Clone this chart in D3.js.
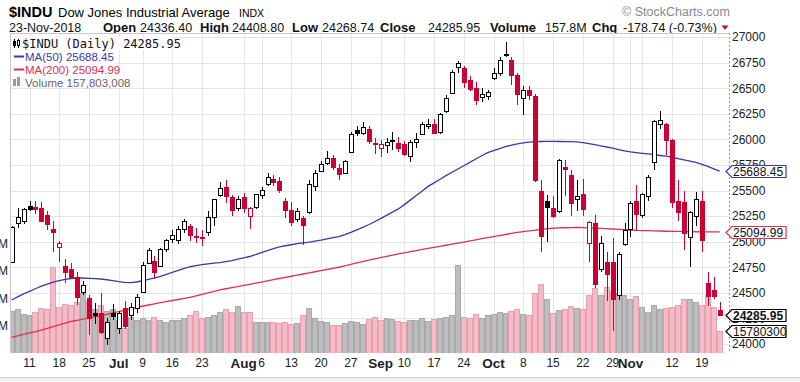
<!DOCTYPE html>
<html><head><meta charset="utf-8">
<script src="https://cdn.jsdelivr.net/npm/d3@7"></script>
<style>
body{margin:0;background:#fff;}
svg{display:block;font-family:"Liberation Sans",Arial,sans-serif;}
</style></head><body>
<svg id="c" width="800" height="382"></svg>
<script>
// ---------------- data ----------------
const dates = ["2018-06-06","2018-06-07","2018-06-08","2018-06-11","2018-06-12","2018-06-13","2018-06-14","2018-06-15","2018-06-18","2018-06-19","2018-06-20","2018-06-21","2018-06-22","2018-06-25","2018-06-26","2018-06-27","2018-06-28","2018-06-29","2018-07-02","2018-07-03","2018-07-05","2018-07-06","2018-07-09","2018-07-10","2018-07-11","2018-07-12","2018-07-13","2018-07-16","2018-07-17","2018-07-18","2018-07-19","2018-07-20","2018-07-23","2018-07-24","2018-07-25","2018-07-26","2018-07-27","2018-07-30","2018-07-31","2018-08-01","2018-08-02","2018-08-03","2018-08-06","2018-08-07","2018-08-08","2018-08-09","2018-08-10","2018-08-13","2018-08-14","2018-08-15","2018-08-16","2018-08-17","2018-08-20","2018-08-21","2018-08-22","2018-08-23","2018-08-24","2018-08-27","2018-08-28","2018-08-29","2018-08-30","2018-08-31","2018-09-04","2018-09-05","2018-09-06","2018-09-07","2018-09-10","2018-09-11","2018-09-12","2018-09-13","2018-09-14","2018-09-17","2018-09-18","2018-09-19","2018-09-20","2018-09-21","2018-09-24","2018-09-25","2018-09-26","2018-09-27","2018-09-28","2018-10-01","2018-10-02","2018-10-03","2018-10-04","2018-10-05","2018-10-08","2018-10-09","2018-10-10","2018-10-11","2018-10-12","2018-10-15","2018-10-16","2018-10-17","2018-10-18","2018-10-19","2018-10-22","2018-10-23","2018-10-24","2018-10-25","2018-10-26","2018-10-29","2018-10-30","2018-10-31","2018-11-01","2018-11-02","2018-11-05","2018-11-06","2018-11-07","2018-11-08","2018-11-09","2018-11-12","2018-11-13","2018-11-14","2018-11-15","2018-11-16","2018-11-19","2018-11-20","2018-11-21","2018-11-23"];

const open = [
24800,25180,25200,25345,25340,25330,25260,25120,24950,24760,
24730,24650,24510,24450,24300,24300,24060,24300,24160,24350,
24280,24350,24510,24790,24810,24760,24930,25030,25020,25120,
25150,25060,25050,25090,25240,25460,25530,25440,25330,25440,
25250,25340,25460,25560,25610,25590,25400,25310,25220,25230,
25290,25540,25690,25770,25815,25720,25670,25880,26090,26060,
26100,25950,25920,25940,25980,25960,25950,25840,25975,26050,
26130,26150,26070,26280,26450,26710,26700,26580,26500,26410,
26420,26600,26650,26830,26780,26630,26400,26480,26424,25500,
25400,25330,25300,25730,25650,25420,25470,24990,25180,24730,
24800,24800,24480,24980,25120,25400,25260,25450,25780,26150,
26150,25990,25400,25390,25050,25250,25400,24600,24524,24336.40];

const high = [
25150,25330,25330,25400,25400,25390,25300,25200,25010,24830,
24790,24700,24620,24480,24400,24500,24250,24390,24320,24420,
24400,24490,24800,24940,24860,24940,25030,25110,25150,25220,
25170,25130,25110,25300,25420,25580,25600,25460,25450,25480,
25340,25470,25530,25670,25650,25630,25430,25390,25330,25250,
25600,25700,25790,25888,25850,25760,25800,26070,26130,26170,
26130,26010,25990,26010,26070,26020,25980,25990,26060,26170,
26200,26200,26260,26430,26680,26770,26720,26620,26560,26500,
26480,26700,26800,26951,26800,26650,26520,26520,26440,25600,
25460,25450,25810,25800,25700,25600,25610,25200,25260,25060,
24900,25040,24900,25180,25400,25554,25480,25650,26190,26277,
26160,26000,25600,25500,25300,25485,25500,24700,24650,24408.80];

const low = [
24790,25130,25170,25300,25270,25200,25110,24900,24800,24600,
24640,24380,24480,24084,24200,24100,23990,24230,24100,24150,
24230,24300,24500,24780,24640,24750,24900,24990,24980,25080,
25010,24990,24960,25060,25150,25440,25380,25250,25300,25280,
25120,25320,25420,25540,25540,25480,25230,25150,25190,24965,
25270,25500,25680,25750,25700,25600,25660,25870,26030,26040,
25950,25860,25830,25870,25900,25880,25840,25780,25920,26040,
26100,26050,26050,26260,26440,26650,26500,26470,26340,26360,
26380,26580,26620,26800,26530,26340,26240,26380,25580,24899,
25000,25230,25280,25450,25250,25300,25250,24805,24550,24700,
24420,24123,24430,24960,25050,25100,25230,25400,25700,26100,
25850,25330,25200,24920,24755,25150,24900,24370,24440,24268.74];

const close = [
25146.39,25241.41,25316.53,25322.31,25320.73,25201.20,25175.31,25090.48,24987.47,24700.21,
24657.80,24461.70,24580.89,24252.80,24283.11,24117.59,24216.05,24271.41,24307.18,24174.82,
24356.74,24456.48,24776.59,24919.66,24700.45,24924.89,25019.41,25064.36,25119.89,25199.29,
25064.50,25058.12,25044.29,25241.94,25414.10,25527.07,25451.06,25306.83,25415.19,25333.82,
25326.16,25462.58,25502.18,25628.91,25583.75,25509.23,25313.14,25187.70,25299.92,25162.41,
25558.73,25669.32,25758.69,25822.29,25733.60,25656.98,25790.35,26049.64,26064.02,26124.57,
25986.92,25964.82,25952.48,25974.99,25995.87,25916.54,25857.07,25971.06,25998.92,26145.99,
26154.67,26062.12,26246.96,26405.76,26656.98,26743.50,26562.05,26492.21,26385.28,26439.93,
26458.31,26651.21,26773.94,26828.39,26627.48,26447.05,26486.78,26430.57,25598.74,25052.83,
25339.99,25250.55,25798.42,25706.68,25379.45,25444.34,25317.41,25191.43,24583.42,24984.55,
24688.31,24442.92,24874.64,25115.76,25380.74,25270.83,25461.70,25635.01,26180.30,26191.22,
25989.30,25387.18,25286.49,25080.50,25289.27,25413.22,25017.44,24465.64,24464.69,24285.95];
const prevClose0 = 24799.98;

// volume in millions of shares
const volume = [
307,318,286,276,297,329,318,628,339,360,
350,371,435,382,318,350,307,318,244,180,
265,244,254,244,265,244,228,238,244,254,
276,307,254,265,276,302,318,297,345,297,
297,228,228,228,223,217,228,212,217,276,
329,254,233,228,207,201,217,233,228,212,
249,265,244,254,249,233,228,238,244,254,
233,249,254,265,276,642,265,254,286,254,
276,286,297,292,307,318,286,276,439,505,
394,293,315,321,343,329,318,424,477,424,
482,456,439,424,392,413,339,297,350,318,
329,339,350,392,392,371,350,424,339,157.8];

const ma50 = [
24430,24460,24490,24515,24540,24565,24585,24605,24620,24632,
24640,24645,24645,24642,24638,24635,24628,24620,24610,24603,
24600,24606,24618,24632,24646,24660,24680,24700,24720,24740,
24755,24765,24775,24783,24790,24795,24805,24815,24830,24842,
24855,24873,24893,24912,24932,24950,24960,24970,24980,24988,
24995,25005,25015,25028,25040,25050,25068,25090,25115,25140,
25165,25195,25225,25257,25288,25320,25362,25406,25452,25496,
25540,25575,25610,25645,25678,25710,25742,25775,25808,25840,
25870,25890,25910,25928,25943,25955,25965,25972,25977,25979,
25980,25980,25979,25978,25977,25975,25968,25958,25948,25937,
25925,25913,25900,25888,25878,25870,25863,25857,25850,25842,
25835,25825,25812,25800,25788,25775,25755,25735,25712,25688.45];

const ma200 = [
24065,24080,24094,24108,24121,24135,24152,24170,24187,24204,
24220,24231,24242,24253,24264,24275,24289,24303,24317,24331,
24345,24357,24369,24381,24393,24405,24415,24425,24435,24445,
24455,24470,24485,24500,24515,24530,24540,24551,24561,24572,
24582,24594,24605,24617,24628,24640,24651,24662,24673,24684,
24695,24706,24717,24728,24739,24750,24764,24778,24792,24806,
24820,24832,24844,24856,24868,24880,24891,24902,24913,24924,
24935,24945,24955,24965,24975,24985,24996,25007,25018,25029,
25040,25050,25060,25070,25080,25090,25098,25105,25113,25120,
25128,25131,25134,25136,25138,25140,25138,25135,25133,25130,
25128,25124,25121,25117,25114,25110,25108,25107,25105,25104,
25102,25101,25100,25099,25098,25097,25096,25096,25095,25094.99];

const priceTicks = [24000,24250,24500,24750,25000,25250,25500,25750,26000,26250,26500,26750,27000];
const volTicks = [200,400,600,800];
const xTickDates = ["2018-06-11","2018-06-18","2018-06-25","2018-07-02","2018-07-09","2018-07-16","2018-07-23","2018-08-01","2018-08-06","2018-08-13","2018-08-20","2018-08-27","2018-09-04","2018-09-10","2018-09-17","2018-09-24","2018-10-01","2018-10-08","2018-10-15","2018-10-22","2018-10-29","2018-11-01","2018-11-12","2018-11-19"];
const xTickTexts = ["11","18","25","Jul","9","16","23","Aug","6","13","20","27","Sep","10","17","24","Oct","8","15","22","29","Nov","12","19"];
const gridDates = xTickDates.concat(["2018-11-05"]);

// ---------------- layout ----------------
const plotL = 10, plotR = 729, plotT = 33, plotB = 353;
const RED = "#cc0033", BLUE = "#3a3aa6", MARED = "#e0304e";
const svg = d3.select("#c");

const x = d3.scaleBand().domain(dates).range([8.675, 8.675 + dates.length * 5.95]).padding(0);
const cx = d => x(d) + x.bandwidth() / 2;
const y = d3.scaleLinear().domain([24000, 27000]).range([344, 37]);
const yv = d3.scaleLinear().domain([0, 800]).range([353, 353 - 0.137 * 800]);

// header
const hdr = svg.append("g");
hdr.append("text").attr("x", 9).attr("y", 17).attr("font-size", 14.5).attr("font-weight", "bold").text("$INDU");
hdr.append("text").attr("x", 58).attr("y", 17).attr("font-size", 13).text("Dow Jones Industrial Average");
hdr.append("text").attr("x", 239).attr("y", 17).attr("font-size", 10.5).text("INDX");
hdr.append("text").attr("x", 622).attr("y", 16).attr("font-size", 12.5).attr("fill", "#888").text("\u00A9 StockCharts.com");
const line2 = [
  ["23-Nov-2018", 9, false], ["Open", 103, true], ["24336.40", 140, false],
  ["High", 200, true], ["24408.80", 232, false], ["Low", 292, true], ["24268.74", 322, false],
  ["Close", 380, true], ["24285.95", 428, false], ["Volume", 490, true], ["157.8M", 545, false],
  ["Chg", 592, true], ["-178.74 (-0.73%)", 623, false]];
line2.forEach(([t, xx, b]) => {
  hdr.append("text").attr("x", xx).attr("y", 31.5).attr("font-size", b ? 13 : 12.5)
    .attr("font-weight", b ? "bold" : "normal").attr("fill", "#111").text(t);
});
hdr.append("path").attr("d", "M721.5,25.5 L728.5,25.5 L725,30 Z").attr("fill", "#b0103a");

// plot frame background
svg.append("rect").attr("x", plotL).attr("y", plotT).attr("width", plotR - plotL).attr("height", plotB - plotT).attr("fill", "#fff");

// grid
const grid = svg.append("g").attr("stroke", "#e4e4e4").attr("stroke-width", 1).attr("shape-rendering", "crispEdges");
grid.selectAll("line.h").data(priceTicks).join("line")
  .attr("x1", plotL).attr("x2", plotR).attr("y1", d => Math.round(y(d)) + 0.5).attr("y2", d => Math.round(y(d)) + 0.5);
grid.selectAll("line.v").data(gridDates).join("line")
  .attr("x1", d => Math.round(cx(d)) + 0.5).attr("x2", d => Math.round(cx(d)) + 0.5).attr("y1", plotT).attr("y2", plotB);

// clip
svg.append("clipPath").attr("id", "clip").append("rect").attr("x", plotL).attr("y", plotT).attr("width", plotR - plotL).attr("height", plotB - plotT);
const plot = svg.append("g").attr("clip-path", "url(#clip)");

// volume bars
const isDown = i => close[i] < (i === 0 ? prevClose0 : close[i - 1]);
plot.append("g").attr("shape-rendering", "crispEdges").selectAll("rect").data(dates).join("rect")
  .attr("x", d => Math.round(x(d)) + 0.5)
  .attr("width", d => Math.round(x(d) + x.bandwidth()) - Math.round(x(d)) - 1)
  .attr("y", (d, i) => Math.round(yv(volume[i])) + 0.5)
  .attr("height", (d, i) => 353 - Math.round(yv(volume[i])) - 0.5)
  .attr("fill", (d, i) => isDown(i) ? "#f3bcc6" : "#bdbdbd")
  .attr("stroke", (d, i) => isDown(i) ? "#e7a0b0" : "#a9a9a9");

// moving averages
const lineGen = arr => d3.line().x((d, i) => cx(dates[i])).y(d => y(d))(arr);
plot.append("path").attr("d", lineGen(ma200)).attr("fill", "none").attr("stroke", MARED).attr("stroke-width", 1.3);
plot.append("path").attr("d", lineGen(ma50)).attr("fill", "none").attr("stroke", BLUE).attr("stroke-width", 1.3);

// candles
const cg = plot.append("g").attr("shape-rendering", "crispEdges");
dates.forEach((d, i) => {
  const col = isDown(i) ? RED : "#000";
  const filled = close[i] < open[i];
  const left = Math.round(cx(d) - 2);
  const mid = left + 2.5;
  cg.append("line").attr("x1", mid).attr("x2", mid)
    .attr("y1", y(high[i])).attr("y2", y(low[i])).attr("stroke", col).attr("stroke-width", 1);
  const top = Math.round(y(Math.max(open[i], close[i])));
  const bot = Math.round(y(Math.min(open[i], close[i])));
  cg.append("rect").attr("x", left + 0.5).attr("y", top + 0.5)
    .attr("width", 4).attr("height", Math.max(bot - top, 1))
    .attr("fill", filled ? col : "#fff").attr("stroke", col).attr("stroke-width", 1);
});

// frame
svg.append("g").attr("stroke", "#c8c8c8").attr("shape-rendering", "crispEdges").call(g => {
  g.append("line").attr("x1", plotL + 0.5).attr("x2", plotL + 0.5).attr("y1", plotT).attr("y2", plotB);
  g.append("line").attr("x1", plotL).attr("x2", plotR).attr("y1", plotT + 0.5).attr("y2", plotT + 0.5);
});
svg.append("line").attr("x1", plotR + 0.5).attr("x2", plotR + 0.5).attr("y1", plotT).attr("y2", plotB)
  .attr("stroke", "#999").attr("stroke-dasharray", "2,2").attr("shape-rendering", "crispEdges");

// legend
const lg = svg.append("g");
[[44, 162], [56, 98], [69, 106], [82, 122]].forEach(([yy, w]) => {
  lg.append("rect").attr("x", 11).attr("y", yy - 7).attr("width", w).attr("height", 13).attr("fill", "#fff");
});
// candle icon
lg.append("line").attr("x1", 14.5).attr("x2", 14.5).attr("y1", 39).attr("y2", 48).attr("stroke", "#000");
lg.append("rect").attr("x", 13.5).attr("y", 41.5).attr("width", 2).attr("height", 4).attr("fill", "#000").attr("stroke", "#000");
lg.append("line").attr("x1", 18.5).attr("x2", 18.5).attr("y1", 39).attr("y2", 48).attr("stroke", "#000");
lg.append("rect").attr("x", 17.5).attr("y", 40.5).attr("width", 2).attr("height", 5).attr("fill", "#fff").attr("stroke", "#000");
lg.append("text").attr("x", 22).attr("y", 48).attr("font-family", "'DejaVu Sans Mono',monospace").attr("font-size", 12).attr("fill", "#111").text("$INDU (Daily) 24285.95");
lg.append("line").attr("x1", 14).attr("x2", 24).attr("y1", 56.5).attr("y2", 56.5).attr("stroke", BLUE).attr("stroke-width", 2);
lg.append("text").attr("x", 25).attr("y", 61).attr("font-size", 11.5).attr("fill", BLUE).text("MA(50) 25688.45");
lg.append("line").attr("x1", 14).attr("x2", 24).attr("y1", 69.5).attr("y2", 69.5).attr("stroke", MARED).attr("stroke-width", 2);
lg.append("text").attr("x", 25).attr("y", 74).attr("font-size", 11.5).attr("fill", MARED).text("MA(200) 25094.99");
lg.append("rect").attr("x", 13).attr("y", 79).attr("width", 3).attr("height", 7).attr("fill", "#999");
lg.append("rect").attr("x", 17).attr("y", 77).attr("width", 3).attr("height", 9).attr("fill", "#999");
lg.append("text").attr("x", 25).attr("y", 87).attr("font-size", 11.5).attr("fill", "#666").text("Volume 157,803,008");

// price axis (right)
const ay = svg.append("g").attr("transform", `translate(${plotR},0)`)
  .call(d3.axisRight(y).tickValues(priceTicks).tickSize(0).tickPadding(3).tickFormat(d3.format("d")));
ay.select(".domain").remove();
ay.selectAll("text").attr("font-size", 12).attr("font-family", "'Liberation Sans',Arial,sans-serif").attr("fill", "#222");

// volume axis (left, clipped by the edge)
const av = svg.append("g").attr("transform", "translate(8,0)")
  .call(d3.axisLeft(yv).tickValues(volTicks).tickSize(0).tickPadding(0).tickFormat(d => d + "M"));
av.select(".domain").remove();
av.selectAll("text").attr("font-size", 12).attr("font-family", "'Liberation Sans',Arial,sans-serif").attr("fill", "#222");

// x axis
const ax = svg.append("g").attr("transform", `translate(0,${plotB})`)
  .call(d3.axisBottom(x).tickValues(xTickDates).tickSize(0).tickPadding(5).tickFormat((d, i) => xTickTexts[i]));
ax.select(".domain").remove();
ax.selectAll("text").attr("font-family", "'Liberation Sans',Arial,sans-serif").attr("fill", "#222")
  .attr("font-size", (d, i) => /[A-Za-z]/.test(xTickTexts[i]) ? 13.5 : 12)
  .attr("font-weight", (d, i) => /[A-Za-z]/.test(xTickTexts[i]) ? "bold" : "normal");

// bottom band
svg.append("rect").attr("x", 0).attr("y", 377).attr("width", 800).attr("height", 5).attr("fill", "#f0f0f0");
svg.append("line").attr("x1", 0).attr("x2", 800).attr("y1", 377.5).attr("y2", 377.5).attr("stroke", "#d0d0d0");

// value tags on the right
function tag(yc, txt, col, bold) {
  const g = svg.append("g");
  yc = Math.round(yc) + 0.5;
  g.append("path").attr("d", `M726,${yc} L732,${yc - 6} H786 V${yc + 6} H732 Z`)
    .attr("fill", "#fff").attr("stroke", col).attr("stroke-width", 1.2);
  g.append("text").attr("x", 733).attr("y", yc).attr("dy", "0.35em").attr("font-size", 12)
    .attr("font-weight", bold ? "bold" : "normal").attr("fill", "#111").text(txt);
}
tag(y(ma50[ma50.length - 1]), "25688.45", BLUE, false);
tag(y(ma200[ma200.length - 1]), "25094.99", MARED, false);
tag(y(close[close.length - 1]), "24285.95", "#000", true);
tag(yv(volume[volume.length - 1]), "15780300", "#000", false);
</script>
</body></html>
